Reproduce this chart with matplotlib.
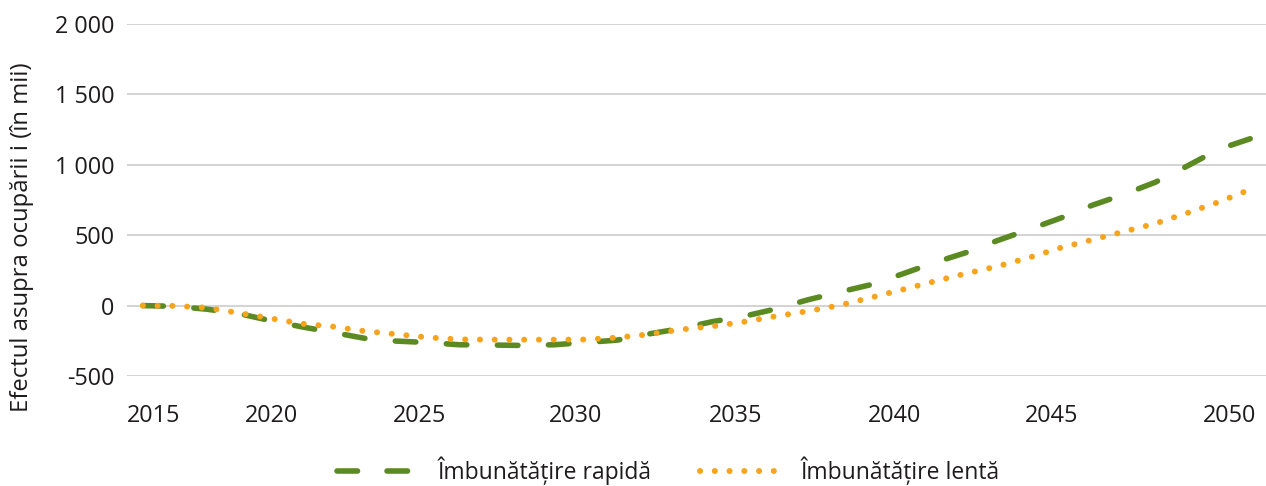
import matplotlib
matplotlib.use("Agg")
import matplotlib.pyplot as plt
from matplotlib.lines import Line2D
import numpy as np

# ---- data ----
years = list(range(2015, 2051))
rapida = [0, -5, -25, -55, -105, -150, -190, -232, -252, -262, -278, -280,
          -283, -278, -262, -245, -201, -163, -114, -76, -24, 40, 95, 148,
          224, 304, 375, 461, 540, 621, 712, 789, 876, 990, 1110, 1185]
lenta = [0, -2, -15, -51, -89, -128, -149, -181, -203, -226, -240, -242,
         -242, -242, -241, -227, -204, -170, -147, -115, -76, -40, 1, 56,
         113, 171, 227, 278, 340, 410, 467, 525, 583, 657, 735, 825]
x_labels = ["2015", "2020", "2025", "2030", "2035", "2040", "2045", "2050"]
y_ticks = [-500, 0, 500, 1000, 1500, 2000]
series_names = ["Îmbunătățire rapidă", "Îmbunătățire lentă"]
y_title = "Efectul asupra ocupării i (în mii)"

# ---- layout / style ----
x_label_pos = [2015.35, 2019.08, 2023.76, 2028.69, 2033.72, 2038.75, 2043.71, 2049.36]
GREEN = "#5B8A23"
ORANGE = "#F7A41D"
TXT = "#1E1B1C"
FONT = ["Open Sans", "DejaVu Sans"]
plt.rcParams['font.family'] = FONT

W, H = 1266, 486
fig = plt.figure(figsize=(W / 100, H / 100), dpi=100)
ax = fig.add_axes([127 / W, (H - 376) / H, (W - 127) / W, (376 - 24) / H])
ax.set_xlim(2014.5, 2050.5)
ax.set_ylim(-500, 2000)

lw_g = 4.0
lw_o = 4.3
on_g, off_g = 3.7, 5.3
dash_o = (0.02, 2.45)

# fit the green dash period so the line starts and ends with a dash
pts = ax.transData.transform(np.column_stack([years, rapida]))
L = np.sum(np.hypot(*np.diff(pts, axis=0).T))  # pixels
lw_px = lw_g * 100 / 72
on_px = on_g * lw_px
P_nom = (on_g + off_g) * lw_px
n = max(1, round((L - on_px) / P_nom))
off_fit = ((L - on_px) / n - on_px) / lw_px
dash_g = (on_g, off_fit)

ax.plot(years, rapida, color=GREEN, lw=lw_g, dashes=dash_g,
        dash_capstyle="round", solid_capstyle="round", zorder=3)
ax.plot(years, lenta, color=ORANGE, lw=lw_o, dashes=dash_o,
        dash_capstyle="round", solid_capstyle="round", zorder=4)

ax.set_yticks(y_ticks)
ax.set_yticklabels([f"{v:,}".replace(",", " ") for v in y_ticks])
ax.set_xticks(x_label_pos)
ax.set_xticklabels(x_labels)
ax.tick_params(axis="both", length=0, labelsize=16.8, colors=TXT)
ax.tick_params(axis="y", pad=9)
ax.tick_params(axis="x", pad=20)
for s in ax.spines.values():
    s.set_visible(False)
ax.yaxis.grid(True, color="#D0D0D0", lw=1.3)
ax.set_axisbelow(True)

fig.text(22 / W, 1 - 237 / H, y_title, rotation=90, ha="center", va="center",
         fontsize=17.2, color=TXT)

handles = [
    Line2D([0], [0], color=GREEN, lw=lw_g, dashes=(on_g, off_g), dash_capstyle="round"),
    Line2D([0], [0], color=ORANGE, lw=lw_o, dashes=dash_o, dash_capstyle="round"),
]
fig.legend(handles, series_names, loc="center", bbox_to_anchor=(668 / W, 1 - 471 / H),
           ncol=2, frameon=False, fontsize=16.5, handlelength=3.4,
           handletextpad=1.0, columnspacing=2.1, labelcolor=TXT,
           borderaxespad=0, borderpad=0)

fig.savefig("out.png", dpi=100)
